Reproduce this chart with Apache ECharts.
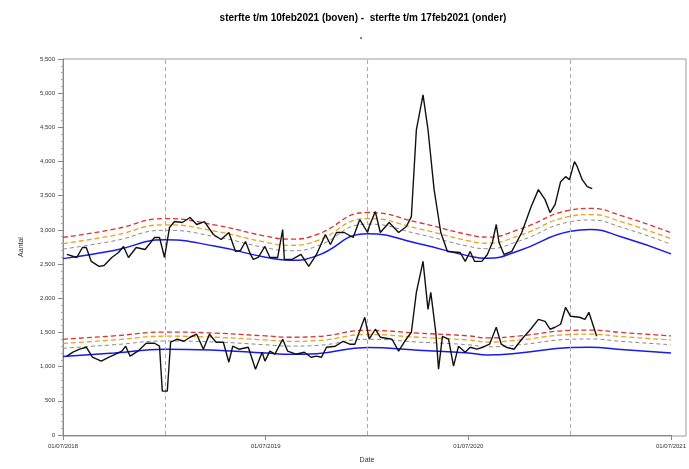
<!DOCTYPE html>
<html><head><meta charset="utf-8">
<script src="https://cdn.jsdelivr.net/npm/echarts@6/dist/echarts.min.js"></script>
<style>html,body{margin:0;padding:0;background:#fff}#c{width:689px;height:469px}</style>
</head><body><div id="c"></div>
<script>
// x = days since 01/07/2018
const tickLabels = ['01/07/2018','01/07/2019','01/07/2020','01/07/2021'];
const tickDays = [0,365,731,1096];
const janLines = [184,549,915];

const upperDays = [7,25,35,42,51,65,74,88,100,109,118,132,148,165,174,183,192,201,215,229,241,255,271,285,299,311,320,329,338,343,352,364,373,387,396,399,413,429,443,457,473,482,493,507,523,535,549,552,563,572,588,605,619,628,637,649,658,669,681,693,716,725,734,742,755,765,774,781,786,795,809,827,844,857,869,878,887,897,906,913,922,927,936,945,954];
const upperVals = [2641,2597,2743,2743,2539,2466,2480,2597,2670,2758,2597,2743,2714,2889,2889,2597,3035,3122,3108,3181,3079,3122,2933,2860,2962,2685,2700,2830,2641,2568,2597,2758,2597,2597,3006,2568,2568,2641,2466,2641,2933,2787,2962,2962,2889,3152,2962,3050,3268,2962,3108,2962,3050,3195,4465,4975,4465,3589,2962,2685,2670,2539,2685,2539,2539,2641,2816,3079,2816,2641,2685,2962,3341,3589,3443,3254,3370,3706,3779,3735,3998,3925,3735,3633,3604];

const lowerDays = [7,18,30,42,53,69,83,95,106,113,121,135,150,165,174,179,188,194,206,218,229,241,253,264,276,289,299,306,317,334,347,359,364,373,382,396,405,420,435,447,457,466,475,491,505,517,526,544,552,563,572,593,605,616,628,637,649,658,663,672,677,684,695,704,713,725,734,746,757,769,781,790,799,813,827,843,857,869,878,887,897,906,915,931,941,948,962];
const lowerVals = [1153,1211,1255,1284,1138,1080,1138,1182,1226,1299,1153,1226,1342,1342,1299,642,642,1357,1401,1371,1430,1474,1255,1474,1357,1357,1065,1299,1255,1284,963,1211,1080,1226,1182,1401,1226,1182,1211,1138,1153,1138,1284,1299,1371,1328,1328,1722,1401,1547,1430,1401,1226,1371,1503,2086,2539,1838,2086,1503,963,1444,1401,1007,1299,1211,1284,1255,1284,1328,1576,1328,1284,1255,1401,1547,1692,1663,1547,1576,1620,1868,1736,1722,1692,1795,1444];

const baseDays = [0,92,184,275,365,410,457,549,640,731,765,823,915,950,1006,1096];
const upperBase   = [2580,2700,2855,2760,2600,2555,2620,2945,2800,2620,2585,2700,2980,3005,2900,2650];
const upperGray   = [2720,2840,2995,2900,2740,2695,2760,3085,2940,2760,2725,2840,3120,3145,3040,2790];
const upperOrange = [2800,2920,3075,2980,2820,2775,2840,3165,3020,2840,2805,2920,3200,3225,3120,2870];
const upperRed    = [2890,3010,3165,3070,2910,2865,2930,3255,3110,2930,2895,3010,3290,3315,3210,2960];
const lowerBase   = [1150,1200,1255,1240,1200,1180,1190,1280,1240,1200,1170,1200,1280,1285,1250,1200];
const lowerGray   = [1270,1320,1375,1360,1320,1300,1310,1400,1360,1320,1290,1320,1400,1405,1370,1320];
const lowerOrange = [1340,1390,1445,1430,1390,1370,1380,1470,1430,1390,1360,1390,1470,1475,1440,1390];
const lowerRed    = [1400,1450,1505,1490,1450,1430,1440,1530,1490,1450,1420,1450,1530,1535,1500,1450];

const zip = (a,b)=>a.map((d,i)=>[d,b[i]]);
const band = (vals,color,w,dash)=>({type:'line',data:zip(baseDays,vals),smooth:true,symbol:'none',
  lineStyle:{color:color,width:w,type:dash},z:2,silent:true});
const chart = echarts.init(document.getElementById('c'));
chart.setOption({
  animation:false,
  title:{text:'sterfte t/m 10feb2021 (boven) -  sterfte t/m 17feb2021 (onder)',left:358,top:8,textAlign:'center',
    textStyle:{fontSize:10,fontWeight:'bold',color:'#000',fontFamily:'Liberation Sans'}},
  grid:{left:63,right:3,top:59,bottom:33},
  xAxis:{type:'value',min:0,max:1096,interval:365.33,
    axisLine:{lineStyle:{color:'#888'}},axisTick:{lineStyle:{color:'#888'}},splitLine:{show:false},
    axisLabel:{fontSize:6,color:'#333',formatter:v=>{const i=tickDays.findIndex(d=>Math.abs(d-v)<3);return i>=0?tickLabels[i]:'';}},
    name:'Date',nameLocation:'middle',nameGap:22,nameTextStyle:{fontSize:7,color:'#333'}},
  yAxis:{type:'value',min:0,max:5500,interval:500,
    axisLine:{show:true,lineStyle:{color:'#888'}},axisTick:{show:true,lineStyle:{color:'#888'}},
    minorTick:{show:true,splitNumber:5,length:2,lineStyle:{color:'#aaa'}},splitLine:{show:false},
    axisLabel:{fontSize:6,color:'#333'},
    name:'Aantal',nameLocation:'middle',nameGap:38,nameTextStyle:{fontSize:7,color:'#333'}},
  graphic:[{type:'rect',shape:{x:63,y:59,width:623,height:377},style:{fill:'none',stroke:'#999',lineWidth:1},silent:true},
    {type:'circle',shape:{cx:361,cy:38,r:1},style:{fill:'#3355cc'}}],
  series:[
    band(upperRed,'#e03030',1.3,[5,3]),band(upperOrange,'#f0a020',1.3,[5,3]),band(upperGray,'#888',1,[4,3]),
    band(upperBase,'#1a1aee',1.5,'solid'),
    band(lowerRed,'#e03030',1.3,[5,3]),band(lowerOrange,'#f0a020',1.3,[5,3]),band(lowerGray,'#888',1,[4,3]),
    band(lowerBase,'#1a1aee',1.5,'solid'),
    {type:'line',data:zip(upperDays,upperVals),symbol:'none',lineStyle:{color:'#111',width:1.4},z:5,
      markLine:{silent:true,symbol:'none',label:{show:false},lineStyle:{color:'#aaa',type:[4,3],width:1},
        data:janLines.map(d=>({xAxis:d}))}},
    {type:'line',data:zip(lowerDays,lowerVals),symbol:'none',lineStyle:{color:'#111',width:1.4},z:5}
  ]
});
</script></body></html>
